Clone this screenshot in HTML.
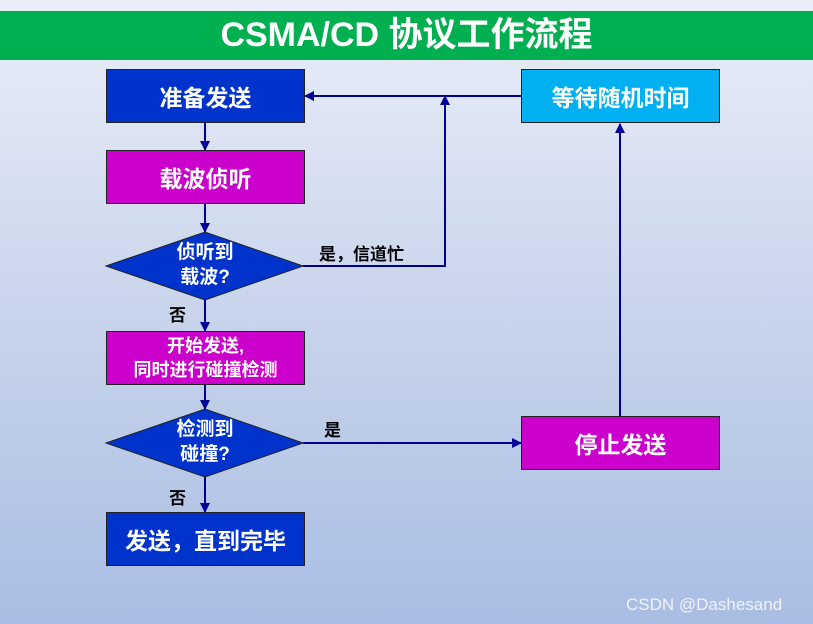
<!DOCTYPE html>
<html><head><meta charset="utf-8"><style>
body{margin:0}
.c{position:relative;width:813px;height:624px;overflow:hidden;background:linear-gradient(#eaeef8,#c5d2ea 55%,#a9bde4);font-family:"Liberation Sans","Noto Sans CJK SC",sans-serif}
.t{position:absolute;left:0;top:11px;width:813px;height:49px;background:#00b050;color:#fff;font-weight:bold;font-size:34px;text-align:center;line-height:48px}
.b{position:absolute;width:199px;height:54px;border:1px solid #222;color:#fff;font-weight:bold;font-size:23px;display:flex;align-items:center;justify-content:center;text-align:center;box-sizing:border-box}
.l{position:absolute;font-weight:bold;font-size:17px;color:#000}
.w{position:absolute;color:#fff;font-weight:bold;font-size:19px;text-align:center;line-height:25px;width:100px}
</style></head><body><div class="c">
<div class="t">CSMA/CD 协议工作流程</div>
<svg width="813" height="624" style="position:absolute;left:0;top:0">
<defs><marker id="a" markerWidth="10" markerHeight="10" refX="9" refY="5" orient="auto" markerUnits="userSpaceOnUse"><path d="M0,0L10,5L0,10z" fill="#000099"/></marker></defs>
<g stroke="#000099" stroke-width="2" fill="none">
<line x1="205" y1="123" x2="205" y2="150" marker-end="url(#a)"/>
<line x1="205" y1="204" x2="205" y2="232" marker-end="url(#a)"/>
<line x1="205" y1="300" x2="205" y2="331" marker-end="url(#a)"/>
<line x1="205" y1="385" x2="205" y2="409" marker-end="url(#a)"/>
<line x1="205" y1="477" x2="205" y2="512" marker-end="url(#a)"/>
<polyline points="303,266 445,266 445,96" marker-end="url(#a)"/>
<line x1="521" y1="96" x2="305" y2="96" marker-end="url(#a)"/>
<line x1="303" y1="443" x2="521" y2="443" marker-end="url(#a)"/>
<line x1="620" y1="416" x2="620" y2="124" marker-end="url(#a)"/>
</g>
<polygon points="106,266 205,232 303,266 205,300" fill="#0033cc" stroke="#222"/>
<polygon points="106,443 205,409 303,443 205,477" fill="#0033cc" stroke="#222"/>
</svg>
<div class="b" style="left:106px;top:69px;background:#0033cc">准备发送</div>
<div class="b" style="left:106px;top:150px;background:#cc00cc">载波侦听</div>
<div class="b" style="left:106px;top:331px;background:#cc00cc;font-size:18px;line-height:24px">开始发送,<br>同时进行碰撞检测</div>
<div class="b" style="left:106px;top:512px;background:#0033cc">发送，直到完毕</div>
<div class="b" style="left:521px;top:69px;background:#00b0f0">等待随机时间</div>
<div class="b" style="left:521px;top:416px;background:#cc00cc">停止发送</div>
<div class="w" style="left:155px;top:240px">侦听到<br>载波?</div>
<div class="w" style="left:155px;top:417px">检测到<br>碰撞?</div>
<div class="l" style="left:319px;top:240px">是，信道忙</div>
<div class="l" style="left:324px;top:416px">是</div>
<div class="l" style="left:169px;top:301px">否</div>
<div class="l" style="left:169px;top:484px">否</div>
<div style="position:absolute;left:626px;top:595px;font-size:17px;color:#f0f2f8">CSDN @Dashesand</div>
</div></body></html>
